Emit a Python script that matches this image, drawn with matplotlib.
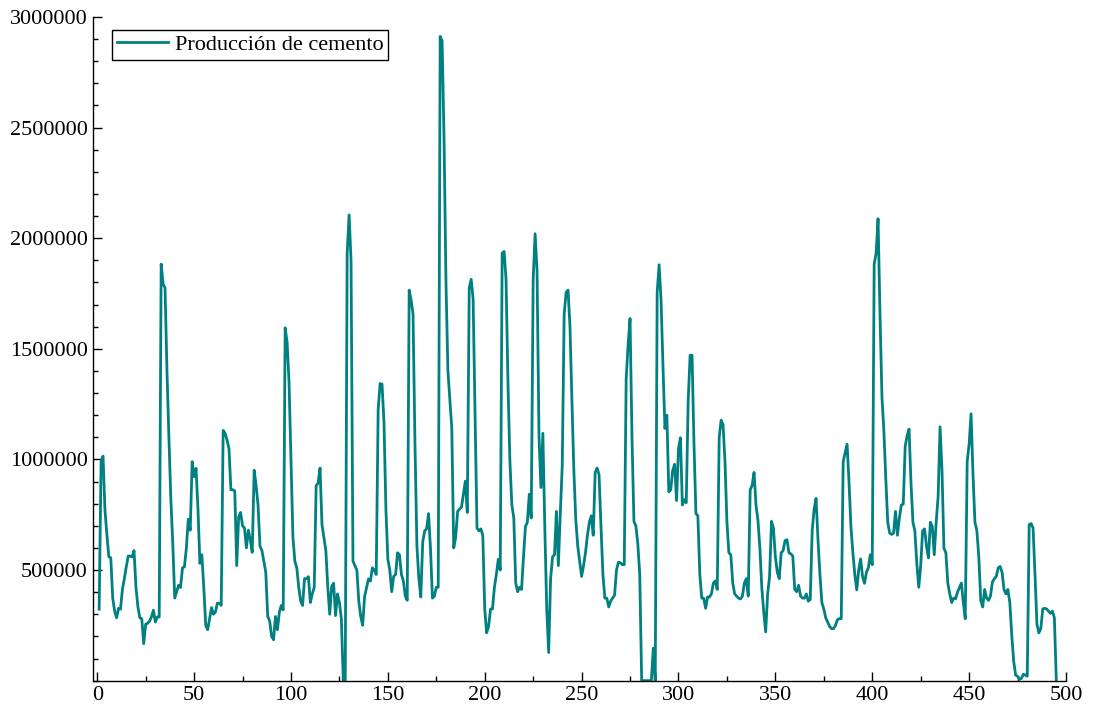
import numpy as np
import matplotlib
matplotlib.use('Agg')
import matplotlib.pyplot as plt
from matplotlib.ticker import MultipleLocator, FixedLocator

# Producción mensual de cemento (miles de unidades), observaciones 1..495
produccion_miles = [
    323, 990, 1015, 770, 660, 560, 555, 373, 314, 284,          # 1-10
    327, 323, 412, 461, 514, 563, 563, 559, 588, 422,           # 11-20
    333, 284, 280, 167, 255, 259, 269, 288, 318, 265,           # 21-30
    288, 288, 1883, 1794, 1775, 1400, 1100, 820, 620, 373,      # 31-40
    402, 431, 421, 510, 514, 598, 730, 680, 990, 922,           # 41-50
    960, 775, 530, 569, 422, 250, 230, 280, 330, 300,           # 51-60
    310, 350, 350, 340, 1131, 1118, 1088, 1049, 863, 863,       # 61-70
    857, 520, 740, 760, 700, 690, 600, 680, 637, 580,           # 71-80
    951, 882, 794, 608, 588, 539, 490, 290, 270, 200,           # 81-90
    185, 290, 230, 310, 340, 320, 1595, 1530, 1350, 1000,       # 91-100
    650, 540, 510, 422, 359, 340, 461, 461, 470, 353,           # 101-110
    392, 422, 882, 892, 961, 706, 647, 588, 422, 300,           # 111-120
    426, 440, 294, 392, 353, 280, 0, 0, 1932, 2105,             # 121-130
    1900, 540, 520, 500, 360, 290, 250, 380, 420, 460,          # 131-140
    450, 510, 500, 480, 1225, 1343, 1340, 1167, 775, 549,       # 141-150
    500, 402, 471, 480, 578, 569, 480, 451, 382, 363,           # 151-160
    1765, 1720, 1657, 1069, 608, 461, 378, 627, 677, 686,       # 161-170
    755, 598, 373, 382, 422, 422, 2912, 2892, 2450, 1800,       # 171-180
    1400, 1270, 1140, 600, 647, 765, 775, 784, 843, 902,        # 181-190
    760, 1775, 1814, 1726, 1200, 690, 677, 686, 657, 324,       # 191-200
    216, 245, 324, 324, 422, 480, 549, 500, 1932, 1940,         # 201-210
    1814, 1343, 990, 794, 735, 441, 402, 422, 412, 559,         # 211-220
    696, 716, 843, 735, 1814, 2020, 1853, 1108, 873, 1118,      # 221-230
    696, 324, 127, 461, 559, 569, 765, 520, 755, 971,           # 231-240
    1657, 1755, 1765, 1600, 1265, 950, 726, 608, 539, 471,      # 241-250
    520, 578, 657, 716, 745, 657, 941, 961, 931, 696,           # 251-260
    480, 373, 373, 333, 359, 373, 386, 500, 535, 533,           # 261-270
    524, 524, 1363, 1520, 1637, 1100, 720, 700, 620, 480,       # 271-280
    0, 0, 0, 0, 0, 0, 147, 0, 1755, 1880,                       # 281-290
    1720, 1420, 1140, 1200, 853, 863, 950, 978, 814, 1049,      # 291-300
    1098, 794, 818, 804, 1265, 1471, 1471, 1069, 755, 745,      # 301-310
    480, 373, 373, 327, 378, 378, 392, 441, 451, 412,           # 311-320
    1098, 1177, 1157, 990, 716, 578, 569, 441, 392, 382,        # 321-330
    373, 369, 382, 441, 461, 382, 863, 882, 941, 794,           # 331-340
    726, 600, 420, 310, 220, 390, 470, 720, 690, 560,           # 341-350
    490, 461, 578, 588, 633, 637, 578, 573, 563, 412,           # 351-360
    402, 431, 382, 373, 373, 392, 359, 367, 677, 775,           # 361-370
    824, 637, 480, 353, 324, 284, 265, 245, 235, 235,           # 371-380
    249, 275, 280, 280, 990, 1030, 1069, 900, 696, 578,         # 381-390
    480, 410, 500, 550, 470, 440, 490, 510, 569, 524,           # 391-400
    1883, 1932, 2088, 1657, 1284, 1128, 912, 716, 667, 661,     # 401-410
    667, 765, 657, 735, 794, 798, 1059, 1108, 1137, 892,        # 411-420
    716, 677, 529, 422, 520, 677, 686, 608, 555, 716,           # 421-430
    696, 569, 716, 833, 1147, 951, 598, 578, 441, 392,          # 431-440
    353, 373, 370, 400, 420, 441, 353, 280, 990, 1069,          # 441-450
    1206, 931, 716, 677, 559, 363, 333, 412, 373, 363,          # 451-460
    382, 445, 461, 471, 510, 516, 490, 412, 392, 412,           # 461-470
    353, 206, 88, 25, 20, 6, 10, 29, 25, 20,                    # 471-480
    705, 710, 690, 480, 255, 216, 235, 324, 327, 324,           # 481-490
    314, 304, 314, 284, 0,                                      # 491-495
]
produccion = np.array(produccion_miles) * 1000
periodo = np.arange(1, len(produccion) + 1)

y_ticks = [500000, 1000000, 1500000, 2000000, 2500000, 3000000]
x_ticks = [0, 50, 100, 150, 200, 250, 300, 350, 400, 450, 500]

plt.rcParams['font.family'] = ['Liberation Serif', 'DejaVu Serif']

fig = plt.figure(figsize=(10.93, 7.13), dpi=100)
ax = fig.add_axes([0.0854, 0.0454, 0.8899, 0.9308])

ax.plot(periodo, produccion, color='#008080', lw=2, label='Producción de cemento')

ax.set_xlim(-2, 500)
ax.set_ylim(0, 3000000)
ax.xaxis.set_major_locator(FixedLocator(x_ticks))
ax.xaxis.set_minor_locator(MultipleLocator(25))
ax.yaxis.set_major_locator(FixedLocator(y_ticks))
ax.yaxis.set_minor_locator(MultipleLocator(100000))
ax.ticklabel_format(axis='y', style='plain')

for side in ('top', 'right'):
    ax.spines[side].set_visible(False)
for side in ('left', 'bottom'):
    ax.spines[side].set_linewidth(1.0)

ax.tick_params(which='both', direction='in', width=1.0, labelsize=16)
ax.tick_params(which='major', length=6.5, pad=4)
ax.tick_params(which='minor', length=3.5)

leg = ax.legend(loc='upper left', bbox_to_anchor=(0.0195, 0.98), borderaxespad=0,
                fontsize=16, handlelength=2.3, handletextpad=0.3,
                fancybox=False, framealpha=1, edgecolor='black', borderpad=0.2)
leg.get_frame().set_linewidth(1.0)

fig.savefig('out.png', dpi=100)
